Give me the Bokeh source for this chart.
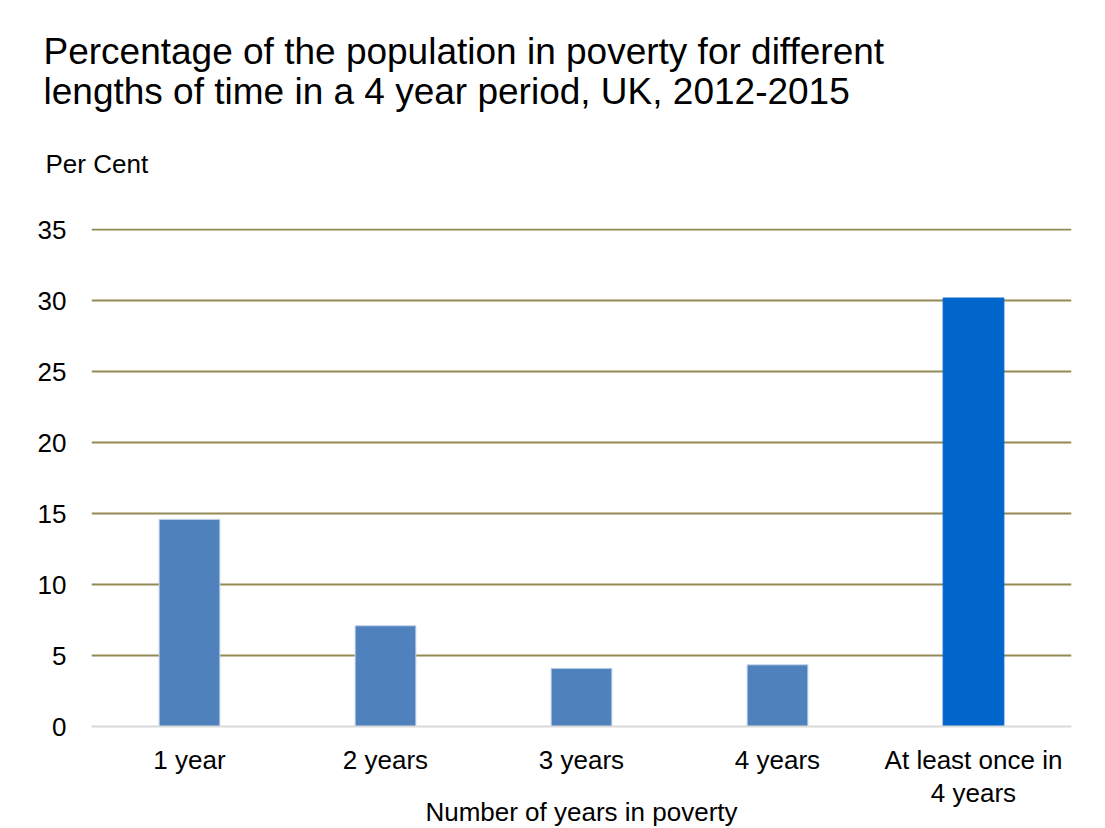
from bokeh.plotting import figure
from bokeh.models import FixedTicker, ColumnDataSource, Title
from bokeh.embed import file_html
from bokeh.resources import INLINE

categories = ["1 year", "2 years", "3 years", "4 years", "At least once in\n4 years"]
values = [14.6, 7.1, 4.1, 4.35, 30.2]
bar_colors = ["#4F81BD", "#4F81BD", "#4F81BD", "#4F81BD", "#0066CC"]
bar_edges = ["#C5D5EA", "#C5D5EA", "#C5D5EA", "#C5D5EA", "#0066CC"]
y_ticks = [0, 5, 10, 15, 20, 25, 30, 35]
title_text = "Percentage of the population in poverty for different\nlengths of time in a 4 year period, UK, 2012-2015"
y_title = "Per Cent"
x_title = "Number of years in poverty"

FONT = "Liberation Sans"

src = ColumnDataSource(dict(cat=categories, val=values, color=bar_colors, edge=bar_edges))

p = figure(width=1105, height=828, frame_width=980, frame_height=498,
           x_range=categories, y_range=(0, 35.1),
           output_backend="svg", toolbar_location=None, title_location=None,
           min_border_left=91, min_border_right=34, min_border_top=228, min_border_bottom=101)

p.vbar(x="cat", top="val", width=0.31, source=src, fill_color="color", line_color="edge", line_width=1)

p.outline_line_color = None
p.background_fill_color = "white"
p.border_fill_color = "white"

p.xgrid.grid_line_color = None
p.ygrid.ticker = FixedTicker(ticks=y_ticks[1:])
p.ygrid.grid_line_color = "#948A54"
p.ygrid.grid_line_width = 2

p.yaxis.ticker = FixedTicker(ticks=y_ticks)
p.yaxis.axis_line_color = None
p.yaxis.major_tick_line_color = None
p.yaxis.major_tick_out = 0
p.yaxis.minor_tick_line_color = None
p.yaxis.minor_tick_out = 0
p.yaxis.major_label_standoff = 25
p.yaxis.major_label_text_font = FONT
p.yaxis.major_label_text_font_size = "26px"
p.yaxis.major_label_text_color = "black"

p.xaxis.axis_line_color = "#D9D9D9"
p.xaxis.axis_line_width = 2
p.xaxis.major_tick_line_color = None
p.xaxis.major_tick_out = 0
p.xaxis.minor_tick_line_color = None
p.xaxis.minor_tick_out = 0
p.xaxis.major_label_standoff = 18
p.xaxis.major_label_text_font = FONT
p.xaxis.major_label_text_font_size = "26px"
p.xaxis.major_label_text_color = "black"
p.xaxis.major_label_text_line_height = 1.1
p.xaxis.axis_label = x_title
p.xaxis.axis_label_text_font = FONT
p.xaxis.axis_label_text_font_size = "26px"
p.xaxis.axis_label_text_font_style = "normal"
p.xaxis.axis_label_text_color = "black"
p.xaxis.axis_label_standoff = -14

p.add_layout(Title(text=y_title, align="left", offset=-46, standoff=100, text_font=FONT,
                   text_font_size="26px", text_font_style="normal", text_color="black"), "above")
p.add_layout(Title(text=title_text, align="left", offset=-48, standoff=-31, text_font=FONT,
                   text_font_size="37px", text_font_style="normal", text_color="black",
                   text_line_height=0.98), "above")

open("out.html", "w").write(file_html(p, INLINE))
